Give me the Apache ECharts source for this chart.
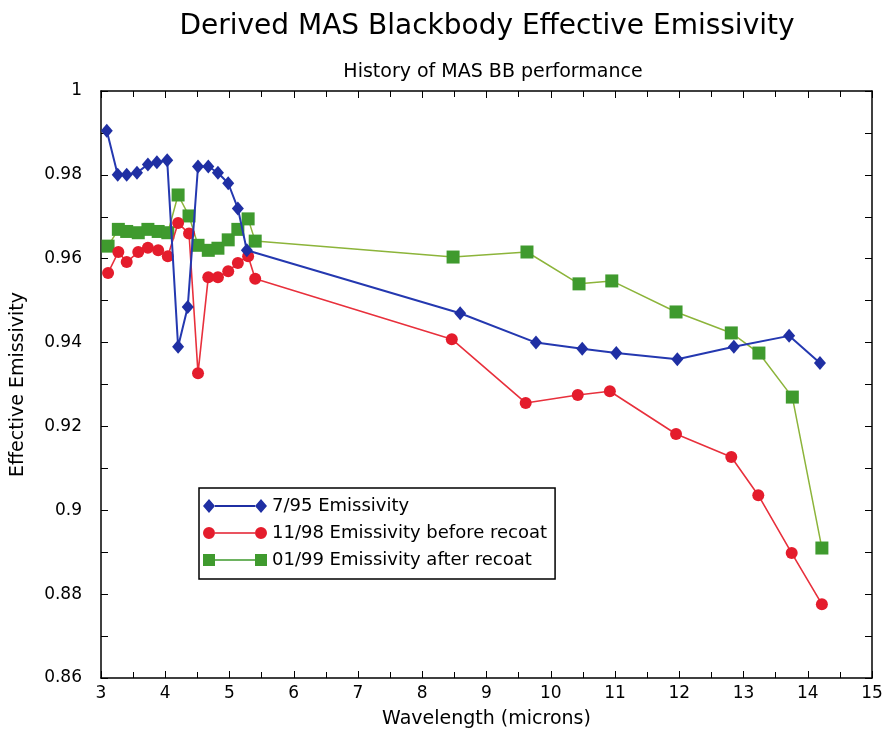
<!DOCTYPE html>
<html><head><meta charset="utf-8">
<script src="https://cdn.jsdelivr.net/npm/echarts@6/dist/echarts.min.js"></script>
<style>html,body{margin:0;padding:0;background:#fff}#c{width:886px;height:734px}</style>
</head><body><div id="c"></div>
<script>
const seriesNames = ['7/95 Emissivity', '11/98 Emissivity before recoat', '01/99 Emissivity after recoat'];
const wl795 = [3.09,3.26,3.40,3.56,3.73,3.87,4.03,4.20,4.35,4.51,4.67,4.82,4.98,5.13,5.27,8.59,9.77,10.49,11.02,11.97,12.85,13.71,14.19];
const em795 = [0.9905,0.980,0.980,0.9805,0.9825,0.983,0.9835,0.939,0.9485,0.982,0.982,0.9805,0.978,0.972,0.962,0.947,0.940,0.9385,0.9375,0.936,0.939,0.9416,0.9351];
const wl1198 = [3.11,3.27,3.40,3.58,3.73,3.89,4.04,4.20,4.37,4.51,4.67,4.82,4.98,5.13,5.29,5.40,8.46,9.61,10.42,10.92,11.95,12.81,13.23,13.75,14.22];
const em1198 = [0.9566,0.9616,0.9592,0.9616,0.9626,0.962,0.9606,0.9685,0.966,0.9327,0.9556,0.9556,0.957,0.959,0.9606,0.9552,0.9408,0.9256,0.9275,0.9284,0.9182,0.9127,0.9036,0.8898,0.8776];
const wl0199 = [3.11,3.27,3.40,3.58,3.73,3.89,4.04,4.20,4.37,4.51,4.67,4.82,4.98,5.13,5.29,5.40,8.48,9.63,10.44,10.95,11.95,12.81,13.24,13.76,14.22];
const em0199 = [0.9630,0.9670,0.9665,0.9662,0.9670,0.9665,0.9662,0.9752,0.9702,0.9632,0.9620,0.9625,0.9645,0.9670,0.9695,0.9642,0.9604,0.9616,0.9540,0.9547,0.9473,0.9423,0.9375,0.9270,0.8910];

const zip = (a,b) => a.map((v,i)=>[v,b[i]]);
const FONT = '"DejaVu Sans", "Liberation Sans", Arial, sans-serif';
// legend icons: marker - line - marker (64 x 14 box)
const iconDiamond = 'path://M0,7L6,0L12,7L6,14ZM12,6L52,6L52,8L12,8ZM52,7L58,0L64,7L58,14Z';
const iconCircle = 'path://M0,7A6,6 0 1,1 12,7A6,6 0 1,1 0,7ZM12,6.3L52,6.3L52,7.7L12,7.7ZM52,7A6,6 0 1,1 64,7A6,6 0 1,1 52,7Z';
const iconSquare = 'path://M0,1L12,1L12,13L0,13ZM12,6.3L52,6.3L52,7.7L12,7.7ZM52,1L64,1L64,13L52,13ZM0,0L0,0M0,14L0,14';
const chart = echarts.init(document.getElementById('c'), null, {renderer:'canvas'});
const axisLineStyle = {show:true, lineStyle:{color:'#000', width:1.5}};
const tickStyle = {show:true, inside:true, length:7, lineStyle:{color:'#000'}};
chart.setOption({
  backgroundColor:'#fff',
  animation:false,
  textStyle:{fontFamily:FONT},
  title:[
    {text:'Derived MAS Blackbody Effective Emissivity', left:482, top:8, textAlign:'center',
     textStyle:{fontFamily:FONT, fontSize:28, fontWeight:'normal', color:'#000'}},
    {text:'History of MAS BB performance', left:488, top:58, textAlign:'center',
     textStyle:{fontFamily:FONT, fontSize:19, fontWeight:'normal', color:'#000'}}
  ],
  legend:{
    orient:'vertical', left:199, top:488,
    padding:[9,8,10,4], itemGap:9, itemWidth:64, itemHeight:14,
    borderColor:'#000', borderWidth:1.5, backgroundColor:'#fff',
    textStyle:{fontFamily:FONT, fontSize:18, color:'#000'},
    data:[
      {name:seriesNames[0], icon:iconDiamond},
      {name:seriesNames[1], icon:iconCircle},
      {name:seriesNames[2], icon:iconSquare}
    ]
  },
  grid:{left:101, right:14, top:91, bottom:56, containLabel:false},
  xAxis:[
    {type:'value', min:3, max:15, interval:1, position:'bottom',
     name:'Wavelength (microns)', nameLocation:'middle', nameGap:32,
     nameTextStyle:{fontFamily:FONT, fontSize:19, color:'#000'},
     axisLine:axisLineStyle, axisTick:tickStyle,
     minorTick:{show:true, splitNumber:2, length:6, lineStyle:{color:'#000'}},
     axisLabel:{fontFamily:FONT, fontSize:17, color:'#000', margin:7},
     splitLine:{show:false}},
    {type:'value', min:3, max:15, interval:1, position:'top',
     axisLine:axisLineStyle, axisTick:tickStyle,
     minorTick:{show:true, splitNumber:2, length:6, lineStyle:{color:'#000'}},
     axisLabel:{show:false}, splitLine:{show:false}}
  ],
  yAxis:[
    {type:'value', min:0.86, max:1, interval:0.02, position:'left',
     name:'Effective Emissivity', nameLocation:'middle', nameGap:73,
     nameTextStyle:{fontFamily:FONT, fontSize:19, color:'#000'},
     axisLine:axisLineStyle, axisTick:tickStyle,
     minorTick:{show:true, splitNumber:2, length:7, lineStyle:{color:'#000'}},
     axisLabel:{fontFamily:FONT, fontSize:17, color:'#000', margin:19,
       formatter:v=>String(+v.toFixed(2))},
     splitLine:{show:false}},
    {type:'value', min:0.86, max:1, interval:0.02, position:'right',
     axisLine:axisLineStyle, axisTick:tickStyle,
     minorTick:{show:true, splitNumber:2, length:7, lineStyle:{color:'#000'}},
     axisLabel:{show:false}, splitLine:{show:false}}
  ],
  series:[
    {name:seriesNames[0], type:'line', data:zip(wl795, em795),
     symbol:'diamond', symbolSize:[12,14], z:3,
     itemStyle:{color:'#1f2fa3'}, lineStyle:{color:'#2438b0', width:2}},
    {name:seriesNames[1], type:'line', data:zip(wl1198, em1198),
     symbol:'circle', symbolSize:12, z:2,
     itemStyle:{color:'#e41c2c'}, lineStyle:{color:'#e8303c', width:1.6}},
    {name:seriesNames[2], type:'line', data:zip(wl0199, em0199),
     symbol:'rect', symbolSize:13, z:1,
     itemStyle:{color:'#3f9a2e'}, lineStyle:{color:'#8cb43a', width:1.5}}
  ]
});
</script></body></html>
